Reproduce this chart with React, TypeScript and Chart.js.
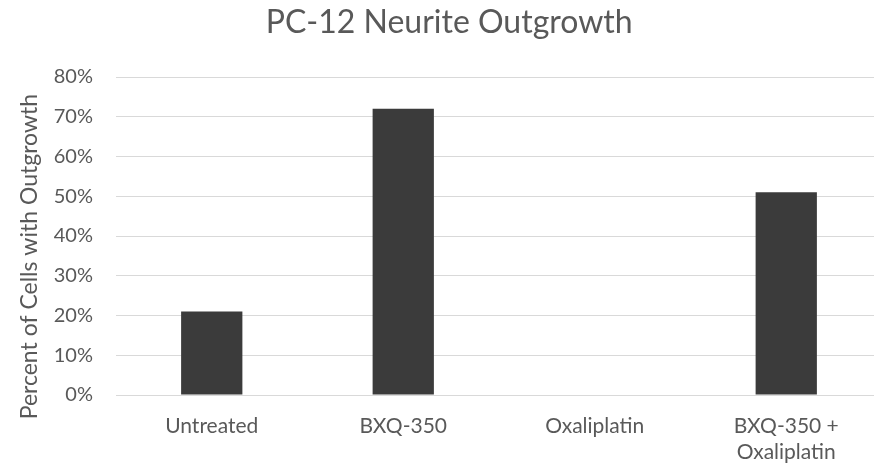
import React, { useEffect, useRef } from "react";
import { Chart, registerables } from "chart.js";

Chart.register(...registerables);

const categories: (string | string[])[] = ["Untreated", "BXQ-350", "Oxaliplatin", ["BXQ-350 +", "Oxaliplatin"]];
const outgrowthPercent: number[] = [21, 72, 0, 51];
const yTickValues: number[] = [0, 10, 20, 30, 40, 50, 60, 70, 80];

const FONT = "Lato, 'Open Sans', sans-serif";
const TEXT = "#595959";

export default function App() {
  const ref = useRef<HTMLCanvasElement | null>(null);
  useEffect(() => {
    if (!ref.current) return;
    const chart = new Chart(ref.current, {
      type: "bar",
      data: {
        labels: categories,
        datasets: [
          {
            data: outgrowthPercent,
            backgroundColor: "#3b3b3b",
            borderWidth: 0,
            categoryPercentage: 1,
            barPercentage: 0.32,
          },
        ],
      },
      options: {
        responsive: false,
        animation: false,
        layout: { padding: 0 },
        plugins: {
          legend: { display: false },
          tooltip: { enabled: false },
          title: {
            display: true,
            text: "  PC-12 Neurite Outgrowth",
            color: TEXT,
            font: { family: FONT, size: 32, weight: "normal", lineHeight: 1.2 },
            padding: { top: 3, bottom: 35.6 },
          },
        },
        scales: {
          x: {
            grid: { display: false, drawTicks: false },
            border: { display: true, color: "#d9d9d9", width: 1 },
            ticks: {
              color: TEXT,
              font: { family: FONT, size: 21, lineHeight: 1.2 },
              padding: 19,
              maxRotation: 0,
              autoSkip: false,
            },
            afterFit: (scale: any) => {
              scale.height = 72;
            },
          },
          y: {
            min: 0,
            max: 80,
            afterBuildTicks: (scale: any) => {
              scale.ticks = yTickValues.map((v) => ({ value: v }));
            },
            grid: { color: "#d9d9d9", lineWidth: 1, drawTicks: false },
            border: { display: false },
            ticks: {
              color: TEXT,
              font: { family: FONT, size: 20 },
              padding: 23,
              callback: (v: any) => v + "%",
            },
            title: {
              display: true,
              text: "Percent of Cells with Outgrowth       ",
              color: TEXT,
              font: { family: FONT, size: 23, lineHeight: 1.2 },
              padding: { top: 16, bottom: 0 },
            },
            afterFit: (scale: any) => {
              scale.width = 116;
            },
          },
        },
      },
    });
    return () => chart.destroy();
  }, []);
  return (
    <div style={{ position: "fixed", left: 0, top: 0, width: "100vw", height: "100vh", overflow: "hidden", background: "#fff" }}>
      <canvas ref={ref} width={882} height={467} style={{ display: "block", width: 882, height: 467 }} />
    </div>
  );
}
